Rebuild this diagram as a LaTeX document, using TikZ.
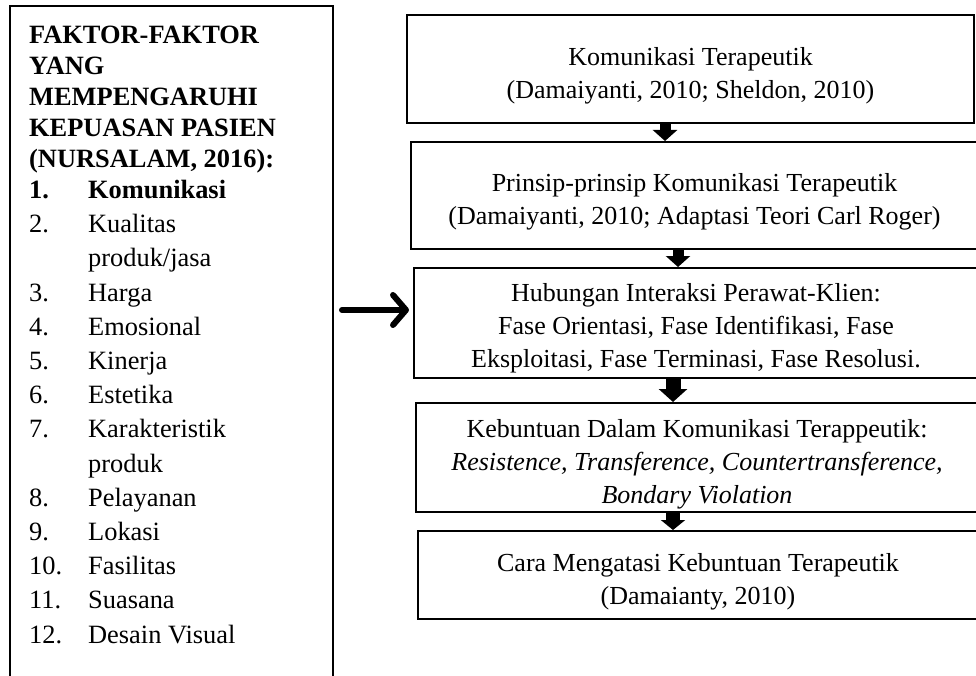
\documentclass[tikz,border=0pt]{standalone}
\usepackage{fontspec}
\setmainfont{Liberation Serif}
\usetikzlibrary{arrows.meta}

\begin{document}
\begin{tikzpicture}[x=1pt, y=-1pt,
   kotak/.style={draw, line width=2pt, inner sep=0pt},
   teks/.style={align=center, inner sep=0pt, font=\fontsize{26}{33}\selectfont},
   blokpanah/.style={line width=11pt, -{Triangle[width=24pt, length=11pt]}}]
   \useasboundingbox (0,0) rectangle (976,676);
   % kotak faktor di kiri
   \node[kotak, minimum width=323pt, minimum height=700pt] (faktor) at (171.5,356) {};
   \node[anchor=north west, align=left, inner sep=0pt, font=\bfseries\fontsize{26.4}{31}\selectfont] (judul) at (29,25.5)
      {FAKTOR-FAKTOR\\YANG\\MEMPENGARUHI\\KEPUASAN PASIEN\\(NURSALAM, 2016):};
   \node[anchor=north west, align=left, inner sep=0pt, font=\fontsize{26.4}{34.2}\selectfont] (daftar) at (29,180)
      {\makebox[59pt][l]{\textbf{1.}}\textbf{Komunikasi}\\
       \makebox[59pt][l]{2.}Kualitas\\
       \hspace*{59pt}produk/jasa\\
       \makebox[59pt][l]{3.}Harga\\
       \makebox[59pt][l]{4.}Emosional\\
       \makebox[59pt][l]{5.}Kinerja\\
       \makebox[59pt][l]{6.}Estetika\\
       \makebox[59pt][l]{7.}Karakteristik\\
       \hspace*{59pt}produk\\
       \makebox[59pt][l]{8.}Pelayanan\\
       \makebox[59pt][l]{9.}Lokasi\\
       \makebox[59pt][l]{10.}Fasilitas\\
       \makebox[59pt][l]{11.}Suasana\\
       \makebox[59pt][l]{12.}Desain Visual};
   % alur di kanan
   \node[kotak, minimum width=567pt, minimum height=108pt] (komunikasi) at (690.5,69) {};
   \node[teks] (teks-komunikasi) at ([yshift=-7pt]komunikasi.center)
      {Komunikasi Terapeutik\\(Damaiyanti, 2010; Sheldon, 2010)};
   \node[kotak, minimum width=567pt, minimum height=107pt] (prinsip) at (694.5,195.5) {};
   \node[teks] (teks-prinsip) at ([yshift=-6pt]prinsip.center)
      {Prinsip-prinsip Komunikasi Terapeutik\\(Damaiyanti, 2010; Adaptasi Teori Carl Roger)};
   \node[kotak, minimum width=564pt, minimum height=110pt] (interaksi) at (696,323) {};
   \node[teks] (teks-interaksi) at ([yshift=-5pt]interaksi.center)
      {Hubungan Interaksi Perawat-Klien:\\Fase Orientasi, Fase Identifikasi, Fase\\Eksploitasi, Fase Terminasi, Fase Resolusi.};
   \node[kotak, minimum width=562pt, minimum height=109pt] (kebuntuan) at (697,457.5) {};
   \node[teks] (teks-kebuntuan) at ([yshift=-7pt]kebuntuan.center)
      {Kebuntuan Dalam Komunikasi Terappeutik:\\\textit{Resistence, Transference, Countertransference,}\\\textit{Bondary Violation}};
   \node[kotak, minimum width=560pt, minimum height=88pt] (cara) at (698,575) {};
   \node[teks] (teks-cara) at ([yshift=-7pt]cara.center)
      {Cara Mengatasi Kebuntuan Terapeutik\\(Damaianty, 2010)};
   \draw[blokpanah] ([xshift=-25.5pt]komunikasi.south) -- ([xshift=-29.5pt]prinsip.north);
   \draw[blokpanah] ([xshift=-16.5pt]prinsip.south) -- ([xshift=-18pt]interaksi.north);
   \draw[blokpanah, line width=15pt, -{Triangle[width=28pt, length=13pt]}] ([xshift=-23pt]interaksi.south) -- ([xshift=-24pt]kebuntuan.north);
   \draw[blokpanah, line width=14pt, -{Triangle[width=24pt, length=10pt]}] ([xshift=-24pt]kebuntuan.south) -- ([xshift=-25pt]cara.north);
   % panah dari kotak faktor
   \coordinate (pangkal) at (342,310);
   \draw[line width=6pt, line cap=round, -{Straight Barb[length=13pt, width=30pt, round]}] (pangkal) -- ([xshift=-4pt, yshift=13pt]interaksi.west);
\end{tikzpicture}
\end{document}
